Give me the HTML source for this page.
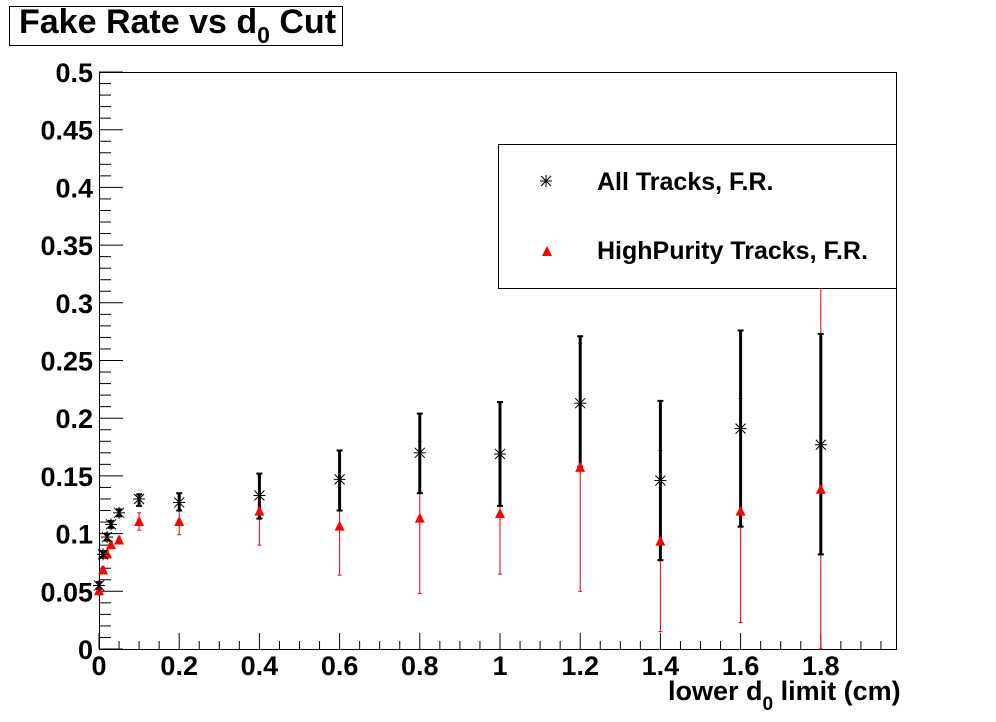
<!DOCTYPE html>
<html><head><meta charset="utf-8"><style>
body{margin:0;background:#fff;}
svg{display:block;font-family:"Liberation Sans",Arial,sans-serif;font-weight:bold;}
</style></head><body>
<svg id="s" width="996" height="722" xmlns="http://www.w3.org/2000/svg">
<rect x="0" y="0" width="996" height="722" fill="#fff"/>
<rect x="9.5" y="6.5" width="333" height="39" fill="#fff" stroke="#000" stroke-width="1"/>
<text x="19" y="33" font-size="34">Fake Rate vs d<tspan font-size="23" dy="10">0</tspan><tspan dy="-10"> Cut</tspan></text>
<rect x="99.5" y="72.5" width="797" height="577" fill="none" stroke="#000" stroke-width="1"/>
<g id="g"></g>
<rect x="498.5" y="144.5" width="398" height="144" fill="#fff" stroke="#000" stroke-width="1"/>
<text x="597" y="190" font-size="25">All Tracks, F.R.</text>
<text x="597" y="259" font-size="25">HighPurity Tracks, F.R.</text>
<g id="lg"></g>
<text x="668" y="700" font-size="27">lower d<tspan font-size="19" dy="10">0</tspan><tspan dy="-10"> limit (cm)</tspan></text>
</svg>
<script>
const g=document.getElementById('g');let h='';
const X=v=>99+v*401, Y=v=>649-v*1154;
for(let i=0;i<=39;i++){const v=i*0.05;const x=X(v);if(x>896)break;const maj=i%4==0;
h+=`<line x1="${x}" y1="649" x2="${x}" y2="${649-(maj?16:8)}" stroke="#000"/>`;
if(maj){const l=(Math.round(v*10)/10).toString();h+=`<text x="${x}" y="675" font-size="27" text-anchor="middle">${l}</text>`;}}
for(let i=0;i<=50;i++){const v=i*0.01;const y=Y(v);const maj=i%5==0;
h+=`<line x1="99" y1="${y}" x2="${99+(maj?24:12)}" y2="${y}" stroke="#000"/>`;
if(maj){const l=(Math.round(v*100)/100).toString();h+=`<text x="93" y="${y+10}" font-size="27" text-anchor="end">${l}</text>`;}}
const red=[[0,.05,.047,.053],[.01,.068,.065,.071],[.02,.082,.079,.085],[.03,.09,.087,.093],[.05,.094,.091,.097],[.1,.11,.103,.118],[.2,.11,.099,.12],[.4,.119,.09,.15],[.6,.106,.064,.148],[.8,.113,.048,.18],[1,.117,.065,.168],[1.2,.157,.05,.265],[1.4,.093,.015,.172],[1.6,.119,.023,.217],[1.8,.138,0,.318]];
const blk=[[0,.055,.052,.058],[.01,.082,.079,.085],[.02,.097,.094,.1],[.03,.108,.105,.111],[.05,.118,.115,.121],[.1,.13,.124,.134],[.2,.127,.12,.135],[.4,.133,.113,.152],[.6,.147,.12,.172],[.8,.17,.135,.204],[1,.169,.124,.214],[1.2,.213,.158,.271],[1.4,.146,.077,.215],[1.6,.191,.106,.276],[1.8,.177,.082,.273]];
for(const [x,y,lo,hi] of red){const px=X(x);h+=`<line x1="${px}" y1="${Y(lo)}" x2="${px}" y2="${Y(hi)}" stroke="#e00" stroke-width="1"/><line x1="${px-2}" y1="${Y(lo)}" x2="${px+2}" y2="${Y(lo)}" stroke="#e00"/><line x1="${px-2}" y1="${Y(hi)}" x2="${px+2}" y2="${Y(hi)}" stroke="#e00"/>`;}
for(const [x,y,lo,hi] of blk){const px=X(x);h+=`<line x1="${px}" y1="${Y(lo)}" x2="${px}" y2="${Y(hi)}" stroke="#000" stroke-width="3"/><line x1="${px-3}" y1="${Y(lo)}" x2="${px+3}" y2="${Y(lo)}" stroke="#000" stroke-width="2"/><line x1="${px-3}" y1="${Y(hi)}" x2="${px+3}" y2="${Y(hi)}" stroke="#000" stroke-width="2"/>`;}
const tri=(px,py)=>`<polygon points="${px},${py-6} ${px-5},${py+4} ${px+5},${py+4}" fill="#f00"/>`;
const star=(px,py)=>`<g stroke="#000" stroke-width="1"><line x1="${px-6}" y1="${py}" x2="${px+6}" y2="${py}"/><line x1="${px}" y1="${py-6}" x2="${px}" y2="${py+6}"/><line x1="${px-5}" y1="${py-5}" x2="${px+5}" y2="${py+5}"/><line x1="${px-5}" y1="${py+5}" x2="${px+5}" y2="${py-5}"/></g>`;
for(const [x,y] of red)h+=tri(X(x),Y(y));
for(const [x,y] of blk)h+=star(X(x),Y(y));
g.innerHTML=h;
document.getElementById('lg').innerHTML=star(546,181)+tri(547,252);
</script>
</body></html>
